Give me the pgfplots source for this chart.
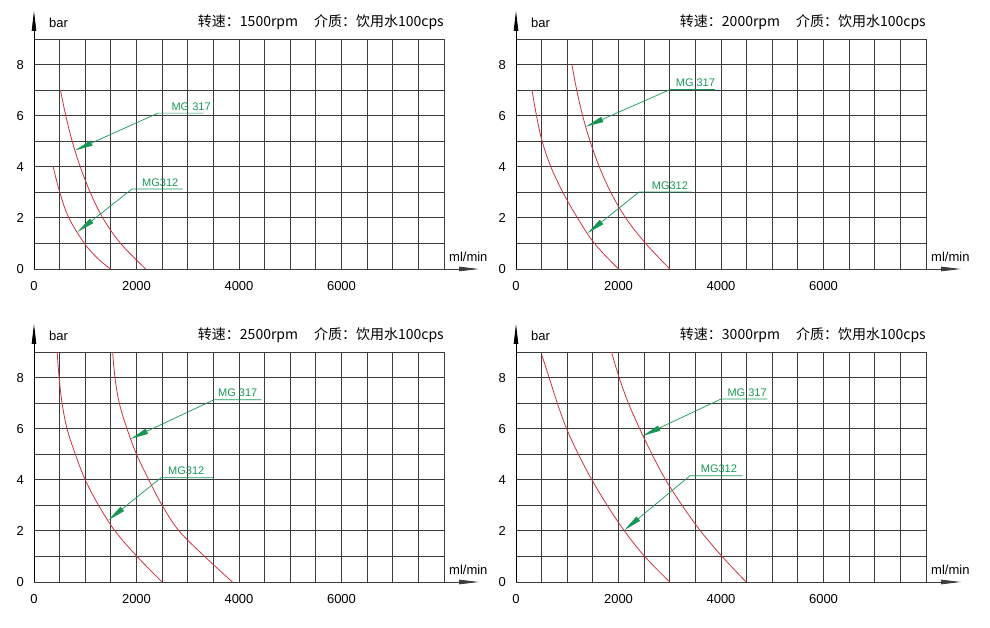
\documentclass[border=0pt]{standalone}
\usepackage{fontspec}
\setmainfont{Liberation Sans}
\newfontfamily\cjk{Noto Sans CJK SC}
\usepackage{pgfplots}
\pgfplotsset{compat=1.18}
\usetikzlibrary{arrows.meta}
\definecolor{curvered}{RGB}{205,50,65}
\definecolor{mggreen}{RGB}{25,150,85}
\definecolor{gridc}{RGB}{60,60,60}

\pgfplotsset{
 panel/.style={
  scale only axis, width=410pt, height=230pt, anchor=south west,
  xmin=0,xmax=8000,ymin=0,ymax=9,
  axis lines=left,
  x axis line style={gridc, line width=0.8pt, -{Triangle[length=20pt,width=4.5pt]}, shorten >=-35pt},
  y axis line style={black, line width=0.8pt, -{Triangle[length=20pt,width=4.5pt]}, shorten >=-28pt},
  xtick={0,2000,4000,6000}, xticklabels={0,2000,4000,6000},
  minor xtick={500,1000,...,8000},
  ytick={0,2,4,6,8}, yticklabels={0,2,4,6,8},
  minor ytick={1,3,5,7,9},
  grid=both,
  major grid style={gridc, line width=0.8pt},
  minor grid style={gridc, line width=0.8pt},
  major tick length=0pt, minor tick length=0pt,
  tick label style={font=\fontsize{13}{13}\selectfont},
  /pgf/number format/assume math mode=true,
  yticklabel style={anchor=east, inner sep=0pt, xshift=-10pt},
  xticklabel style={anchor=north, inner sep=0pt, yshift=-12pt},
  clip=false,
 },
}

\newcommand{\paneltext}[1]{%
 \node[anchor=base east, inner sep=0pt, yshift=12pt, font=\cjk\fontsize{14}{14}\selectfont] at (rel axis cs:1,1) {转速：#1rpm\hspace{16pt}介质：饮用水100cps};
 \node[anchor=base west, inner sep=0pt, xshift=15pt, yshift=11pt, font=\fontsize{13}{13}\selectfont] at (rel axis cs:0,1) {bar};
 \node[anchor=base west, inner sep=0pt, xshift=5pt, yshift=7pt, font=\fontsize{13}{13}\selectfont] at (rel axis cs:1,0) {ml/min};
}
% text, text x, line y, line x1, line x2, tip x, tip y
\newcommand{\mglabel}[7]{%
 \draw[mggreen, line width=0.7pt, {Triangle[length=18pt,width=5.5pt]}-] (axis cs:#6,#7) -- (axis cs:#4,#3) -- (axis cs:#5,#3);
 \node[mggreen, anchor=base west, inner sep=0pt, yshift=3pt, font=\fontsize{11}{11}\selectfont] at (axis cs:#2,#3) {#1};
}

\begin{document}
\begin{tikzpicture}
\useasboundingbox (0,0) rectangle (990pt,628pt);

% ---------- 1500 rpm ----------
\begin{axis}[panel, at={(34pt,359pt)}]
\addplot[curvered, line width=0.8pt, smooth, tension=0.6, no markers] coordinates {(374,4) (503,3) (680,2) (985,1) (1240,0.42) (1490,0)};
\addplot[curvered, line width=0.8pt, smooth, tension=0.6, no markers] coordinates {(516,7) (620,6) (745,5) (903,4) (1097,3) (1342,2) (1690,1) (2180,0)};
\paneltext{1500}
\mglabel{MG 317}{2680}{6.1}{2420}{3311}{800}{4.64}
\mglabel{MG312}{2107}{3.13}{1912}{2907}{850}{1.45}
\end{axis}

% ---------- 2000 rpm ----------
\begin{axis}[panel, at={(516pt,359pt)}]
\addplot[curvered, line width=0.8pt, smooth, tension=0.6, no markers] coordinates {(312,7) (400,6) (510,5) (680,4) (915,3) (1200,2) (1530,1) (2000,0)};
\addplot[curvered, line width=0.8pt, smooth, tension=0.6, no markers] coordinates {(1090,8) (1185,7) (1300,6) (1445,5) (1625,4) (1850,3) (2140,2) (2530,1) (3000,0)};
\paneltext{2000}
\mglabel{MG 317}{3115}{7.02}{3005}{3883}{1363}{5.57}
\mglabel{MG312}{2647}{3.01}{2400}{3428}{1395}{1.40}
\end{axis}

% ---------- 2500 rpm ----------
\begin{axis}[panel, at={(34pt,46pt)}]
\addplot[curvered, line width=0.8pt, smooth, tension=0.6, no markers] coordinates {(452,9) (490,8) (548,7) (645,6) (806,5) (1000,4) (1260,3) (1580,2) (2010,1) (2500,0)};
\addplot[curvered, line width=0.8pt, smooth, tension=0.6, no markers] coordinates {(1535,9) (1580,8) (1664,7) (1815,6) (2000,5) (2240,4) (2500,3) (2830,2) (3330,1) (3870,0)};
\paneltext{2500}
\mglabel{MG 317}{3590}{7.13}{3512}{4436}{1885}{5.60}
\mglabel{MG312}{2615}{4.08}{2478}{3493}{1450}{2.42}
\end{axis}

% ---------- 3000 rpm ----------
\begin{axis}[panel, at={(516pt,46pt)}]
\addplot[curvered, line width=0.8pt, smooth, tension=0.6, no markers] coordinates {(506,8.87) (646,8) (806,7) (987,6) (1217,5) (1480,4) (1780,3) (2115,2) (2510,1) (3000,0)};
\addplot[curvered, line width=0.8pt, smooth, tension=0.6, no markers] coordinates {(1863,9) (2013,8) (2193,7) (2413,6) (2653,5) (2920,4) (3240,3) (3600,2) (4020,1) (4490,0)};
\paneltext{3000}
\mglabel{MG 317}{4124}{7.16}{4000}{4904}{2475}{5.72}
\mglabel{MG312}{3603}{4.16}{3395}{4416}{2115}{2.03}
\end{axis}
\end{tikzpicture}
\end{document}
